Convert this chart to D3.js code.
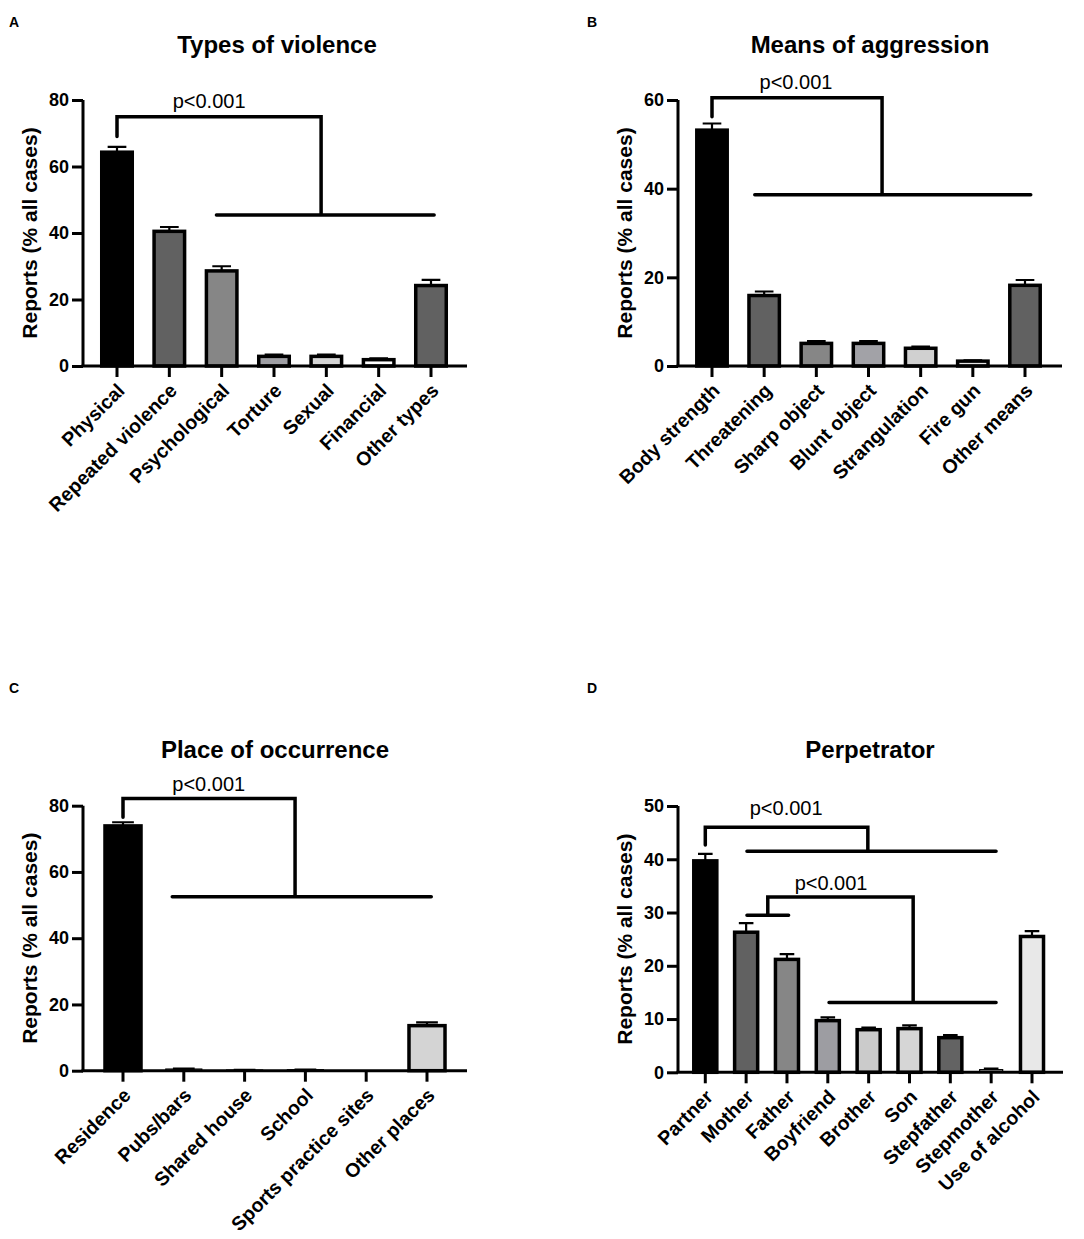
<!DOCTYPE html>
<html>
<head>
<meta charset="utf-8">
<script src="https://cdn.jsdelivr.net/npm/d3@7/dist/d3.min.js"></script>
<style>
  html, body { margin: 0; padding: 0; background: #fff; }
  svg { display: block; }
</style>
</head>
<body>
<svg id="chart" width="1084" height="1239"></svg>
<script>
// ---------------- DATA ----------------
const catsA = ["Physical", "Repeated violence", "Psychological", "Torture", "Sexual", "Financial", "Other types"];
const valsA = [64.3, 40.5, 28.6, 2.9, 2.9, 1.9, 24.2];
const semA  = [1.6, 1.3, 1.4, 0.5, 0.5, 0.4, 1.7];

const catsB = ["Body strength", "Threatening", "Sharp object", "Blunt object", "Strangulation", "Fire gun", "Other means"];
const valsB = [53.2, 15.9, 5.1, 5.1, 4.0, 1.1, 18.2];
const semB  = [1.5, 0.9, 0.5, 0.5, 0.35, 0.2, 1.2];

const catsC = ["Residence", "Pubs/bars", "Shared house", "School", "Sports practice sites", "Other places"];
const valsC = [73.9, 0.5, 0.2, 0.3, 0, 13.6];
const semC  = [1.1, 0.1, 0.05, 0.05, 0, 1.0];

const catsD = ["Partner", "Mother", "Father", "Boyfriend", "Brother", "Son", "Stepfather", "Stepmother", "Use of alcohol"];
const valsD = [39.7, 26.3, 21.2, 9.7, 8.0, 8.2, 6.5, 0.5, 25.5];
const semD  = [1.3, 1.7, 1.0, 0.6, 0.4, 0.6, 0.5, 0.2, 1.0];

const ticksA = [0, 20, 40, 60, 80];
const ticksB = [0, 20, 40, 60];
const ticksC = [0, 20, 40, 60, 80];
const ticksD = [0, 10, 20, 30, 40, 50];

// significance brackets (category index units / value units)
const bracketsA = [{ left: [0, 0], leftY: 69, stem: 0, top: 75, drop: 3.9, right: [1.9, 6.06], rightY: 45.4, label: "p<0.001", labelX: 1.76, labelY: 77.6 }];
const bracketsB = [{ left: [0, 0], leftY: 56.2, stem: 0, top: 60.5, drop: 3.26, right: [0.82, 6.11], rightY: 38.6, label: "p<0.001", labelX: 1.61, labelY: 62.5 }];
const bracketsC = [{ left: [0, 0], leftY: 76.5, stem: 0, top: 82.2, drop: 2.83, right: [0.81, 5.07], rightY: 52.5, label: "p<0.001", labelX: 1.41, labelY: 84.4 }];
const bracketsD = [
  { left: [0, 0], leftY: 42.7, stem: 0, top: 46.0, drop: 3.98, right: [1.02, 7.12], rightY: 41.5, label: "p<0.001", labelX: 1.98, labelY: 48.3 },
  { left: [1.02, 2.04], leftY: 29.5, stem: 1.53, top: 32.9, drop: 5.09, right: [3.03, 7.12], rightY: 13.1, label: "p<0.001", labelX: 3.08, labelY: 34.2 }
];

// ---------------- STYLE ----------------
const colorsA = ["#000000", "#616161", "#868686", "#9e9ea3", "#d4d4d4", "#ffffff", "#616161"];
const colorsB = ["#000000", "#616161", "#868686", "#a2a2a7", "#d0d0d0", "#e6e6e6", "#616161"];
const colorsC = ["#000000", "#9e9ea3", "#cfcfcf", "#d4d4d4", "#e6e6e6", "#d4d4d4"];
const colorsD = ["#000000", "#616161", "#868686", "#9d9da2", "#cbcbcb", "#d6d6d6", "#636363", "#a0a0a0", "#e8e8e8"];

const FONT = "Arial, 'Liberation Sans', Helvetica, sans-serif";

const panels = [
  { letter: "A", title: "Types of violence", cats: catsA, vals: valsA, sem: semA, ticks: ticksA, colors: colorsA, brackets: bracketsA,
    axisX: 83, axisRight: 467, yTop: 100, yBottom: 366, first: 117, last: 431,
    letterX: 9, letterY: 27, titleX: 277, titleY: 53, yTitleX: 30 },
  { letter: "B", title: "Means of aggression", cats: catsB, vals: valsB, sem: semB, ticks: ticksB, colors: colorsB, brackets: bracketsB,
    axisX: 678, axisRight: 1062, yTop: 100, yBottom: 366, first: 712, last: 1025,
    letterX: 587, letterY: 27, titleX: 870, titleY: 53, yTitleX: 625 },
  { letter: "C", title: "Place of occurrence", cats: catsC, vals: valsC, sem: semC, ticks: ticksC, colors: colorsC, brackets: bracketsC,
    axisX: 83, axisRight: 467, yTop: 805.7, yBottom: 1070.7, first: 123, last: 427,
    letterX: 9, letterY: 693, titleX: 275, titleY: 758, yTitleX: 30 },
  { letter: "D", title: "Perpetrator", cats: catsD, vals: valsD, sem: semD, ticks: ticksD, colors: colorsD, brackets: bracketsD,
    axisX: 678, axisRight: 1063, yTop: 806, yBottom: 1072.3, first: 705.3, last: 1032,
    letterX: 587, letterY: 693, titleX: 870, titleY: 758, yTitleX: 625 }
];

const svg = d3.select("#chart");

panels.forEach(p => {
  const g = svg.append("g");
  const n = p.cats.length;
  const step = (p.last - p.first) / (n - 1);
  const x = d3.scaleBand().domain(p.cats)
    .range([p.first - step / 2, p.last + step / 2])
    .paddingInner(0.35).paddingOuter(0.175);
  const bw = x.bandwidth();
  const cx = c => x(c) + bw / 2;
  const xi = d3.scaleLinear().domain([0, n - 1]).range([cx(p.cats[0]), cx(p.cats[n - 1])]);
  const y = d3.scaleLinear().domain([0, p.ticks[p.ticks.length - 1]]).range([p.yBottom, p.yTop]);

  // panel letter
  g.append("text").attr("x", p.letterX).attr("y", p.letterY)
    .attr("font-family", FONT).attr("font-weight", "bold").attr("font-size", 14).text(p.letter);
  // title
  g.append("text").attr("x", p.titleX).attr("y", p.titleY).attr("text-anchor", "middle")
    .attr("font-family", FONT).attr("font-weight", "bold").attr("font-size", 24).text(p.title);

  // bars
  const rows = p.cats.map((c, i) => ({ c, v: p.vals[i], e: p.sem[i], col: p.colors[i] }));
  const bs = 3.5;
  g.selectAll("rect.bar").data(rows).join("rect").attr("class", "bar")
    .attr("x", d => x(d.c) + bs / 2)
    .attr("width", bw - bs)
    .attr("y", d => y(d.v))
    .attr("height", d => Math.max(0, y(0) - y(d.v)))
    .attr("fill", d => d.col)
    .attr("stroke", "#000")
    .attr("stroke-width", d => d.v > 0.6 ? bs : 1.2);

  // error bars (upper only)
  const capW = bw * 0.55;
  g.selectAll("path.err").data(rows.filter(d => d.e > 0)).join("path").attr("class", "err")
    .attr("d", d => `M${cx(d.c)},${y(d.v)}V${y(d.v + d.e)}M${cx(d.c) - capW / 2},${y(d.v + d.e)}H${cx(d.c) + capW / 2}`)
    .attr("fill", "none").attr("stroke", "#000").attr("stroke-width", 2.2);

  // y axis
  const yAxis = d3.axisLeft(y).tickValues(p.ticks).tickSize(11).tickPadding(3).tickFormat(d3.format("d"));
  const ya = g.append("g").attr("transform", `translate(${p.axisX},0)`).call(yAxis);
  ya.select(".domain").attr("d", `M0,${p.yTop}V${p.yBottom}`).attr("stroke-width", 3).attr("stroke", "#000");
  ya.selectAll(".tick line").attr("stroke-width", 3).attr("stroke", "#000");
  ya.selectAll(".tick text").attr("font-family", FONT).attr("font-weight", "bold").attr("font-size", 18).attr("fill", "#000");

  // x axis
  const xAxis = d3.axisBottom(x).tickSize(11).tickSizeOuter(0);
  const xa = g.append("g").attr("transform", `translate(0,${p.yBottom})`).call(xAxis);
  xa.select(".domain").attr("d", `M${p.axisX - 1.5},0H${p.axisRight}`).attr("stroke-width", 3).attr("stroke", "#000");
  xa.selectAll(".tick line").attr("stroke-width", 3).attr("stroke", "#000");
  xa.selectAll(".tick text")
    .attr("font-family", FONT).attr("font-weight", "bold").attr("font-size", 19.5).attr("fill", "#000")
    .attr("text-anchor", "end")
    .attr("transform", "translate(4,21) rotate(-45)")
    .attr("x", 0).attr("y", 0).attr("dy", "0.35em");

  // y axis title
  g.append("text")
    .attr("transform", `translate(${p.yTitleX},${(p.yTop + p.yBottom) / 2}) rotate(-90)`)
    .attr("text-anchor", "middle").attr("dy", "0.35em")
    .attr("font-family", FONT).attr("font-weight", "bold").attr("font-size", 21)
    .text("Reports (% all cases)");

  // significance brackets
  p.brackets.forEach(b => {
    let d = "";
    if (b.left[1] > b.left[0]) d += `M${xi(b.left[0])},${y(b.leftY)}H${xi(b.left[1])}`;
    d += `M${xi(b.stem)},${y(b.leftY)}V${y(b.top)}H${xi(b.drop)}V${y(b.rightY)}`;
    d += `M${xi(b.right[0])},${y(b.rightY)}H${xi(b.right[1])}`;
    g.append("path").attr("d", d).attr("fill", "none").attr("stroke", "#000")
      .attr("stroke-width", 3.5).attr("stroke-linecap", "round").attr("stroke-linejoin", "miter");
    g.append("text").attr("x", xi(b.labelX)).attr("y", y(b.labelY)).attr("text-anchor", "middle")
      .attr("font-family", FONT).attr("font-size", 20).attr("fill", "#000").text(b.label);
  });
});
</script>
</body>
</html>
